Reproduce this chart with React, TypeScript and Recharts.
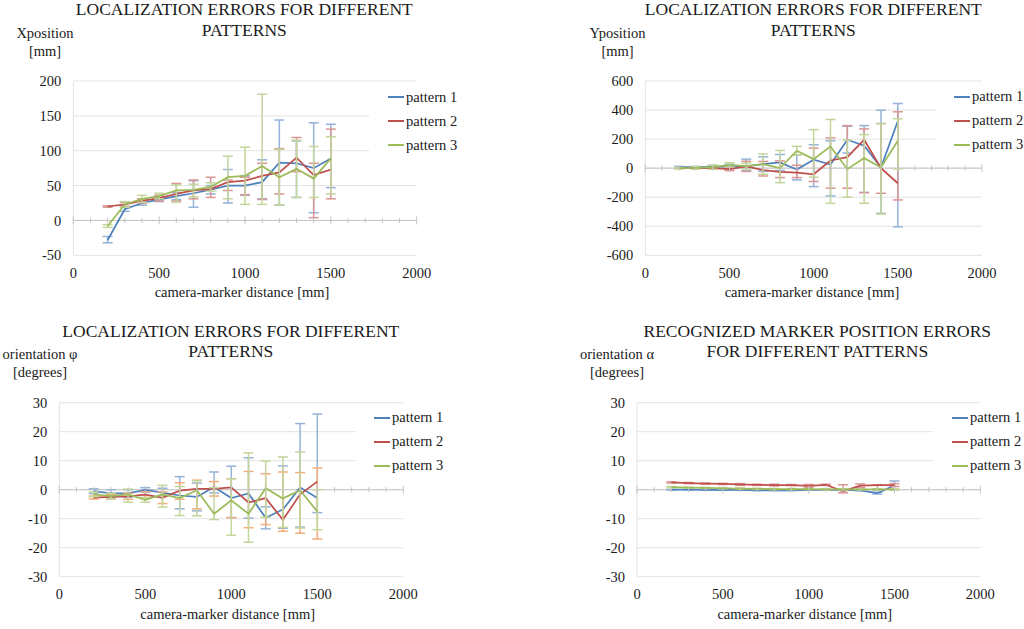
import {
  LineChart,
  Line,
  XAxis,
  YAxis,
  CartesianGrid,
  ErrorBar,
  Legend,
  ReferenceLine,
  ReferenceDot,
} from "recharts";

type Pair = [number, number];

const FONT = '"Liberation Serif", "Times New Roman", serif';
const TEXT = "#1a1a1a";
const GRID = "#e3e3e3";
const AXIS = "#c4c4c4";

const SERIES_NAMES = ["pattern 1", "pattern 2", "pattern 3"];
const COLORS = ["#4F81BD", "#C0504D", "#9BBB59"];
const BAR_COLORS = ["#95B3D7", "#DA9694", "#C3D69B"];
const BAR_COLORS_ORANGE = ["#95B3D7", "#F5AD7A", "#C3D69B"];

const DISTANCES = [200, 300, 400, 500, 600, 700, 800, 900, 1000, 1100, 1200, 1300, 1400, 1500];
const X_TICKS = [0, 500, 1000, 1500, 2000];
const X_MINOR_TICKS = [
  0, 100, 200, 300, 400, 500, 600, 700, 800, 900, 1000,
  1100, 1200, 1300, 1400, 1500, 1600, 1700, 1800, 1900, 2000,
];

// x position [mm]
const XPOS_TICKS = [-50, 0, 50, 100, 150, 200];
const XPOS_P1 = [-28, 16, 25, 30, 35, 39, 44, 50, 50, 55, 83, 82, 75, 89];
const XPOS_P2 = [20, 23, 28, 32, 38, 43, 45, 55, 57, 64, 69, 90, 65, 73];
const XPOS_P3 = [-8, 23, 31, 35, 43, 44, 48, 62, 64, 78, 62, 74, 60, 89];
const XPOS_P1_ERR: Pair[] = [[4, 5], [3, 4], [3, 3], [3, 3], [5, 5], [20, 18], [6, 6], [25, 23], [14, 14], [24, 32], [61, 61], [49, 32], [64, 65], [42, 49]];
const XPOS_P2_ERR: Pair[] = [[1, 1], [3, 3], [3, 3], [4, 4], [10, 15], [12, 15], [12, 17], [12, 3], [20, 5], [34, 18], [31, 34], [20, 29], [61, 17], [42, 58]];
const XPOS_P3_ERR: Pair[] = [[2, 2], [4, 4], [5, 5], [4, 4], [17, 8], [10, 8], [6, 6], [31, 30], [41, 41], [55, 103], [40, 40], [41, 41], [27, 46], [51, 31]];

// y position [mm]
const YPOS_TICKS = [-600, -400, -200, 0, 200, 400, 600];
const YPOS_P1 = [7, 7, 9, 12, 12, 28, 39, -9, 58, 25, 196, 155, 5, 325];
const YPOS_P2 = [0, 0, 0, -7, 12, -14, -25, -30, -42, 53, 76, 196, 0, -104];
const YPOS_P3 = [0, 2, 7, 23, 14, 28, 0, 120, 62, 150, -7, 69, 5, 189];
const YPOS_P1_ERR: Pair[] = [[5, 5], [5, 5], [8, 8], [15, 15], [30, 50], [50, 50], [55, 55], [72, 100], [185, 103], [216, 164], [92, 92], [323, 138], [316, 394], [729, 120]];
const YPOS_P2_ERR: Pair[] = [[3, 3], [3, 3], [5, 5], [10, 10], [35, 35], [40, 60], [40, 75], [35, 50], [50, 180], [191, 155], [214, 217], [364, 74], [173, 307], [115, 492]];
const YPOS_P3_ERR: Pair[] = [[5, 5], [8, 8], [15, 15], [15, 15], [20, 20], [70, 70], [100, 122], [30, 30], [124, 203], [392, 185], [193, 200], [311, 162], [321, 302], [194, 151]];

// orientation phi [degrees]
const DEG_TICKS = [-30, -20, -10, 0, 10, 20, 30];
const PHI_P1 = [-0.5, -1.3, -1.3, -0.1, -1, -2, -2.5, 0.9, -2.9, -1.3, -9.7, -6.8, 0.8, -2.9];
const PHI_P2 = [-2.7, -2.5, -2.3, -1.7, -2.8, -0.3, 0.3, 0.3, 0.8, -4.4, -2.9, -10.4, -1.6, 2.8];
const PHI_P3 = [-1.6, -2.2, -1.6, -3.5, -1.6, -2.9, -0.2, -8.3, -3.7, -8.3, 0.5, -3, -0.2, -7.5];
const PHI_P1_ERR: Pair[] = [[0.8, 0.8], [1.3, 1.3], [1.3, 1.3], [0.8, 0.8], [1, 1.5], [4.6, 6.5], [4.8, 4.8], [2, 5.2], [6.7, 11], [8.5, 12.3], [3.8, 3.8], [6.5, 15], [13.7, 22], [5, 29]];
const PHI_P2_ERR: Pair[] = [[0.5, 0.5], [0.8, 0.8], [1, 1], [1, 1], [2, 2], [3, 2.7], [6.9, 3], [2.5, 2.5], [10.5, 3], [8.7, 10.7], [9.1, 8.4], [3.9, 16.5], [13.4, 7.5], [19.8, 4.7]];
const PHI_P3_ERR: Pair[] = [[0.8, 0.8], [1, 1], [2.7, 1.8], [0.8, 0.8], [4.4, 3.1], [6, 4], [8.8, 3.3], [2, 9], [12, 7.5], [9.8, 21], [10, 9.4], [10, 14.3], [13, 13.2], [6.3, 7.5]];

// orientation alpha [degrees]
const ALPHA_P1 = [0, 0, -0.1, -0.1, -0.1, -0.2, -0.2, -0.2, -0.1, -0.1, -0.1, -0.2, -1.2, 1.5];
const ALPHA_P2 = [2.5, 2.3, 2.1, 2.0, 1.8, 1.7, 1.6, 1.6, 1.3, 1.7, -0.6, 1.4, 1.6, 1.6];
const ALPHA_P3 = [0.9, 0.7, 0.6, 0.5, 0.4, 0.3, 0.2, 0.2, 0.2, 0.1, 0.1, 0.1, 0.1, 0.1];
const ALPHA_P1_ERR: Pair[] = [[0.1, 0.1], [0.1, 0.1], [0.1, 0.1], [0.1, 0.1], [0.1, 0.1], [0.1, 0.1], [0.1, 0.1], [0.1, 0.1], [0.1, 0.1], [0.1, 0.1], [0.2, 0.2], [0.2, 0.2], [0.3, 0.3], [1.5, 1.5]];
const ALPHA_P2_ERR: Pair[] = [[0.2, 0.2], [0.2, 0.2], [0.2, 0.2], [0.2, 0.2], [0.3, 0.3], [0.2, 0.2], [0.3, 0.3], [0.2, 0.2], [0.5, 0.5], [0.2, 0.2], [0.5, 2.3], [0.6, 0.6], [1.6, 0.1], [0.5, 0.5]];
const ALPHA_P3_ERR: Pair[] = [[0.2, 0.2], [0.2, 0.2], [0.2, 0.2], [0.2, 0.2], [0.2, 0.2], [0.2, 0.2], [0.2, 0.2], [0.2, 0.2], [0.2, 0.2], [0.2, 0.2], [0.2, 0.2], [0.2, 0.2], [0.2, 0.2], [0.2, 0.2]];

function buildRows(values: number[][], errors: Pair[][]) {
  return DISTANCES.map((d, i) => ({
    d,
    p1: values[0][i],
    e1: errors[0][i],
    p2: values[1][i],
    e2: errors[1][i],
    p3: values[2][i],
    e3: errors[2][i],
  }));
}

interface PanelProps {
  left: number;
  top: number;
  margin: { top: number; right: number; bottom: number; left: number };
  title: string[];
  titleX: number;
  titleTop: number;
  yLabel: string[];
  yLabelX: number;
  yLabelTop: number;
  xTitleX: number;
  xTitleTop: number;
  legendLeft: number;
  legendTop: number;
  legendPad: number;
  yDomain: [number, number];
  yTicks: number[];
  rows: ReturnType<typeof buildRows>;
  barColors: string[];
}

const tickStyle = { fontSize: 14.5, fontFamily: FONT, fill: TEXT };

function Panel(p: PanelProps) {
  const renderLegend = () => (
    <div style={{ background: "#fff", paddingLeft: p.legendPad, height: 72 }}>
      {SERIES_NAMES.map((name, i) => (
        <div key={name} style={{ height: 24, display: "flex", alignItems: "center" }}>
          <span
            style={{
              display: "inline-block",
              width: 16,
              height: 0,
              borderTop: `2px solid ${COLORS[i]}`,
              marginRight: 2,
            }}
          />
          <span style={{ fontFamily: FONT, fontSize: 14.5, color: TEXT, whiteSpace: "nowrap" }}>
            {name}
          </span>
        </div>
      ))}
    </div>
  );

  return (
    <div style={{ position: "absolute", left: p.left, top: p.top, width: 512, height: 314 }}>
      <LineChart width={512} height={314} data={p.rows} margin={p.margin}>
        <CartesianGrid vertical={false} stroke={GRID} />
        <XAxis
          type="number"
          dataKey="d"
          domain={[0, 2000]}
          ticks={X_TICKS}
          interval={0}
          axisLine={false}
          tickLine={false}
          tickSize={0}
          tickMargin={12}
          height={30}
          tick={tickStyle}
        />
        <YAxis
          type="number"
          domain={p.yDomain}
          ticks={p.yTicks}
          interval={0}
          axisLine={{ stroke: GRID }}
          tickLine={false}
          tickSize={0}
          tickMargin={12}
          width={50}
          tick={tickStyle}
        />
        <ReferenceLine y={0} stroke={AXIS} />
        {X_MINOR_TICKS.map((v) => (
          <ReferenceDot
            key={v}
            x={v}
            y={0}
            r={0}
            ifOverflow="visible"
            shape={(s: any) => {
              const h = X_TICKS.includes(v) ? 4 : 2.5;
              return <line x1={s.cx} x2={s.cx} y1={s.cy - h} y2={s.cy + h} stroke={AXIS} />;
            }}
          />
        ))}
        {["p1", "p2", "p3"].map((key, i) => (
          <Line
            key={key}
            type="linear"
            dataKey={key}
            name={SERIES_NAMES[i]}
            stroke={COLORS[i]}
            strokeWidth={1.75}
            dot={false}
            isAnimationActive={false}
          >
            <ErrorBar
              dataKey={`e${i + 1}`}
              direction="y"
              width={5}
              stroke={p.barColors[i]}
              strokeWidth={1.5}
              isAnimationActive={false}
            />
          </Line>
        ))}
        <Legend
          layout="vertical"
          align="center"
          verticalAlign="middle"
          wrapperStyle={{ left: p.legendLeft, top: p.legendTop, width: 512 - p.legendLeft }}
          content={renderLegend}
        />
      </LineChart>

      <div
        style={{
          position: "absolute",
          left: p.titleX - 220,
          top: p.titleTop,
          width: 440,
          textAlign: "center",
          fontFamily: FONT,
          fontSize: 17.5,
          lineHeight: "20.5px",
          color: TEXT,
        }}
      >
        {p.title.map((t) => (
          <div key={t}>{t}</div>
        ))}
      </div>
      <div
        style={{
          position: "absolute",
          left: p.yLabelX - 60,
          top: p.yLabelTop,
          width: 120,
          textAlign: "center",
          fontFamily: FONT,
          fontSize: 14.5,
          lineHeight: "17.5px",
          color: TEXT,
        }}
      >
        {p.yLabel.map((t) => (
          <div key={t}>{t}</div>
        ))}
      </div>
      <div
        style={{
          position: "absolute",
          left: p.xTitleX - 150,
          top: p.xTitleTop,
          width: 300,
          textAlign: "center",
          fontFamily: FONT,
          fontSize: 14.5,
          lineHeight: "17.5px",
          color: TEXT,
        }}
      >
        camera-marker distance [mm]
      </div>
    </div>
  );
}

const LOC_TITLE = ["LOCALIZATION ERRORS FOR DIFFERENT", "PATTERNS"];

export default function App() {
  return (
    <div
      style={{
        position: "absolute",
        left: 0,
        top: 0,
        width: 1024,
        height: 629,
        overflow: "hidden",
        background: "#fff",
      }}
    >
      <Panel
        left={0}
        top={0}
        margin={{ top: 81, right: 95.3, bottom: 28.7, left: 23.3 }}
        title={LOC_TITLE}
        titleX={244.3}
        titleTop={-1}
        yLabel={["Xposition", "[mm]"]}
        yLabelX={45}
        yLabelTop={25.2}
        xTitleX={242}
        xTitleTop={284.4}
        legendLeft={369}
        legendTop={85}
        legendPad={19}
        yDomain={[-50, 200]}
        yTicks={XPOS_TICKS}
        rows={buildRows([XPOS_P1, XPOS_P2, XPOS_P3], [XPOS_P1_ERR, XPOS_P2_ERR, XPOS_P3_ERR])}
        barColors={BAR_COLORS}
      />
      <Panel
        left={512}
        top={0}
        margin={{ top: 81, right: 42, bottom: 28.7, left: 83.3 }}
        title={LOC_TITLE}
        titleX={301.3}
        titleTop={-1}
        yLabel={["Yposition", "[mm]"]}
        yLabelX={105.5}
        yLabelTop={25.2}
        xTitleX={300}
        xTitleTop={284.4}
        legendLeft={424}
        legendTop={84.7}
        legendPad={18}
        yDomain={[-600, 600]}
        yTicks={YPOS_TICKS}
        rows={buildRows([YPOS_P1, YPOS_P2, YPOS_P3], [YPOS_P1_ERR, YPOS_P2_ERR, YPOS_P3_ERR])}
        barColors={BAR_COLORS}
      />
      <Panel
        left={0}
        top={315}
        margin={{ top: 87.7, right: 108.7, bottom: 22.3, left: 9.3 }}
        title={LOC_TITLE}
        titleX={230.8}
        titleTop={5.5}
        yLabel={["orientation φ", "[degrees]"]}
        yLabelX={40}
        yLabelTop={31.4}
        xTitleX={227.7}
        xTitleTop={291.4}
        legendLeft={356}
        legendTop={90.7}
        legendPad={18}
        yDomain={[-30, 30]}
        yTicks={DEG_TICKS}
        rows={buildRows([PHI_P1, PHI_P2, PHI_P3], [PHI_P1_ERR, PHI_P2_ERR, PHI_P3_ERR])}
        barColors={BAR_COLORS_ORANGE}
      />
      <Panel
        left={512}
        top={315}
        margin={{ top: 87.7, right: 43.7, bottom: 22.3, left: 75 }}
        title={["RECOGNIZED MARKER POSITION ERRORS", "FOR DIFFERENT PATTERNS"]}
        titleX={305.3}
        titleTop={5.5}
        yLabel={["orientation α", "[degrees]"]}
        yLabelX={105}
        yLabelTop={31.4}
        xTitleX={292.8}
        xTitleTop={291.4}
        legendLeft={421}
        legendTop={90.7}
        legendPad={19}
        yDomain={[-30, 30]}
        yTicks={DEG_TICKS}
        rows={buildRows([ALPHA_P1, ALPHA_P2, ALPHA_P3], [ALPHA_P1_ERR, ALPHA_P2_ERR, ALPHA_P3_ERR])}
        barColors={BAR_COLORS}
      />
    </div>
  );
}
